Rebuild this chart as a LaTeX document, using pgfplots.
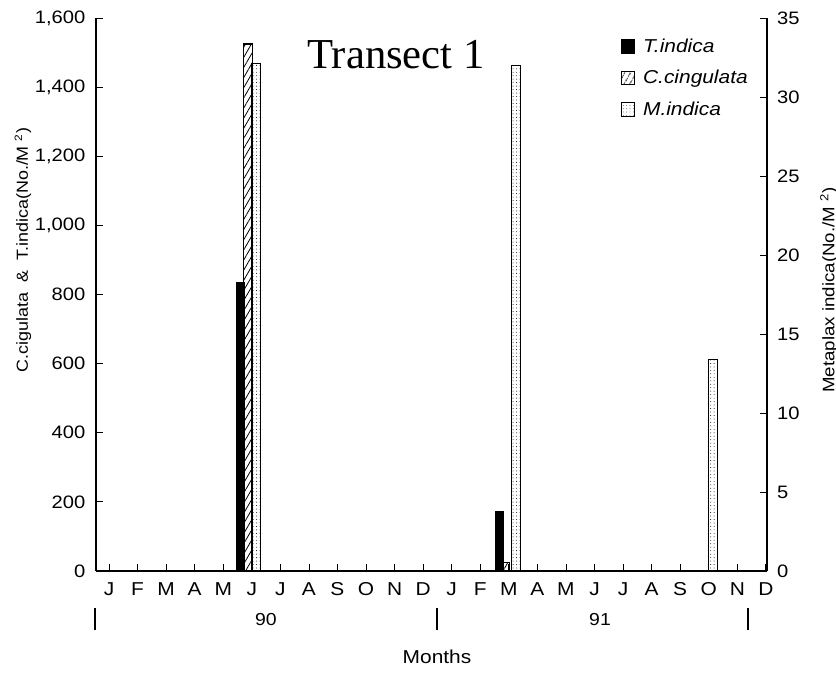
\documentclass[border=0pt]{standalone}
\usepackage{fontspec}
\setmainfont[FakeStretch=1.12]{Liberation Sans}
\newfontfamily\titlefont{Liberation Serif}
\usepackage{pgfplots}
\pgfplotsset{compat=1.18}
\usetikzlibrary{patterns.meta}

\pgfplotstableread{
x y
4.60 835
13.67 172
}\tindica
\pgfplotstableread{
x y
4.87 1525
13.88 25
}\ccingulata
\pgfplotstableread{
x y
5.16 32.1
14.25 32.0
21.15 13.4
}\mindica

\begin{document}
\begin{tikzpicture}
\useasboundingbox (-72pt,-75.75pt) rectangle (555pt,428.25pt);
\pgfplotsset{
  common/.style={
    width=503.25pt, height=414.75pt, scale only axis,
    at={(0pt,0pt)}, anchor=south west,
    xmin=-0.455, xmax=23.04,
    tick align=inside, major tick length=5pt,
    tick style={black, line width=0.6pt},
    axis line style={black, line width=1.1pt},
    /pgf/number format/assume math mode=true,
    /pgf/number format/1000 sep={,},
    clip=false,
  },
}
\begin{axis}[common,
  ymin=0, ymax=1600,
  axis x line*=bottom, axis y line*=left,
  xtick={0,...,23},
  xticklabels={J,F,M,A,M,J,J,A,S,O,N,D,J,F,M,A,M,J,J,A,S,O,N,D},
  xticklabel style={font=\fontsize{14}{15}\selectfont, anchor=north, text height=10pt, text depth=0pt, yshift=-4.8pt},
  ytick={0,200,...,1600},
  yticklabel style={font=\fontsize{13.5}{15}\selectfont, xshift=-4.5pt},
  ylabel={C.cigulata \ \& \ T.indica(No./M \textsuperscript{2})},
  ylabel style={font=\fontsize{12}{13}\selectfont, at={(axis description cs:-0.1088,0.5805)}, anchor=center, rotate=0},
]
\addplot[ybar, bar width=0.3, bar shift=0pt, fill=black, draw=black] table {\tindica};
\addplot[ybar, bar width=0.3, bar shift=0pt, draw=black, line width=0.9pt,
  pattern={Lines[angle=60,distance=3.8pt,line width=0.6pt]}] table {\ccingulata};
\end{axis}
\begin{axis}[common,
  ymin=0, ymax=35,
  axis y line*=right, axis x line=none,
  ytick={0,5,...,35},
  yticklabel style={font=\fontsize{13.5}{15}\selectfont, xshift=4pt},
  ylabel={Metaplax indica(No./M \textsuperscript{2})},
  ylabel style={font=\fontsize{12.5}{13}\selectfont, at={(axis description cs:1.0924,0.508)}, anchor=center, rotate=0},
  legend style={draw=none, fill=none, at={(0.782,0.968)}, anchor=north west,
    font=\itshape\fontsize{14}{16}\selectfont, row sep=8pt, inner sep=0pt,
    nodes={inner xsep=6pt, inner ysep=2pt}},
  legend cell align=left,
]
\addlegendimage{legend image code/.code={\draw[black, fill=black] (0pt,-5pt) rectangle (10pt,5pt);}}
\addlegendentry{T.indica}
\addlegendimage{legend image code/.code={\draw[black, line width=0.7pt, pattern={Lines[angle=60,distance=4pt,line width=0.6pt]}] (0pt,-5pt) rectangle (10pt,5pt);}}
\addlegendentry{C.cingulata}
\addlegendimage{legend image code/.code={\draw[black, line width=0.5pt, pattern={Dots[distance=2.5pt,radius=0.3pt]}] (0pt,-5pt) rectangle (10pt,5pt);}}
\addlegendentry{M.indica}
\addplot[ybar, bar width=0.3, bar shift=0pt, draw=black, line width=0.9pt, forget plot,
  pattern={Dots[distance=2.6pt,radius=0.35pt]}] table {\mindica};
\end{axis}
\node[font=\titlefont\fontsize{32}{36}\selectfont] at (225pt,387pt) {Transect 1};
\node[font=\fontsize{13}{15}\selectfont] at (127.5pt,-36.75pt) {90};
\node[font=\fontsize{13}{15}\selectfont] at (378pt,-36.75pt) {91};
\node[font=\fontsize{14}{16}\selectfont] at (255.75pt,-64.5pt) {Months};
\foreach \xx in {-0.75,255.75,489} {
  \draw[black, line width=1pt] (\xx pt,-27.75pt) -- (\xx pt,-44.25pt);
}
\end{tikzpicture}
\end{document}
